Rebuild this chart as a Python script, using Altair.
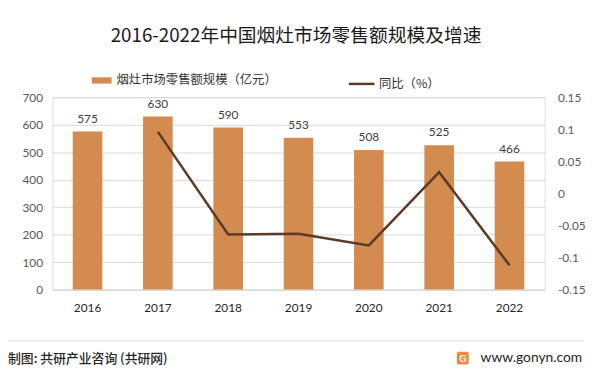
import altair as alt
import pandas as pd

years = ["2016", "2017", "2018", "2019", "2020", "2021", "2022"]
sales = [575, 630, 590, 553, 508, 525, 466]
growth_years = ["2017", "2018", "2019", "2020", "2021", "2022"]
growth = [0.096, -0.064, -0.063, -0.081, 0.033, -0.112]
left_ticks = [0, 100, 200, 300, 400, 500, 600, 700]
right_ticks = [-0.15, -0.1, -0.05, 0, 0.05, 0.1, 0.15]

bar_name = "烟灶市场零售额规模（亿元）"
line_name = "同比（%）"
title_text = "2016-2022年中国烟灶市场零售额规模及增速"
source_text = "制图: 共研产业咨询 (共研网)"
site_text = "www.gonyn.com"

CJK = "Noto Sans CJK SC"
NUM = "Lato"

bars_df = pd.DataFrame({"year": years, "sales": sales, "s": bar_name})
line_df = pd.DataFrame({"year": growth_years, "growth": growth, "s": line_name})

W, H = 499, 195

x_axis = alt.Axis(title=None, labelAngle=0, ticks=False, domain=True,
                  domainColor="#D9D9D9", labelFont=NUM, labelFontSize=12,
                  labelColor="#262626", labelPadding=13)
x_scale = alt.Scale(domain=years, paddingInner=0, paddingOuter=0)

y_axis = alt.Axis(title=None, values=left_ticks, ticks=False, domain=False, grid=True,
                  gridColor="#D9D9D9", labelOverlap=False, labelFont=NUM,
                  labelFontSize=12, labelColor="#595959", labelPadding=10)
y_scale = alt.Scale(domain=[0, 700], nice=False)

bars = alt.Chart(bars_df).mark_bar(size=30).encode(
    x=alt.X("year:N", sort=years, scale=x_scale, axis=x_axis),
    y=alt.Y("sales:Q", scale=y_scale, axis=y_axis),
    color=alt.Color("s:N", scale=alt.Scale(domain=[bar_name], range=["#D38B4F"]),
                    legend=alt.Legend(orient="none", legendX=39, legendY=-28, title=None,
                                      symbolType="M-1,-0.32H1V0.32H-1Z", symbolSize=400,
                                      labelFont=CJK, labelFontSize=12.5, labelColor="#333333",
                                      labelOffset=4, labelLimit=400)),
)

bar_labels = alt.Chart(bars_df).mark_text(dy=-13, font=NUM, fontSize=12, color="#404040").encode(
    x=alt.X("year:N", sort=years, scale=x_scale, axis=x_axis),
    y=alt.Y("sales:Q", scale=y_scale, axis=y_axis),
    text=alt.Text("sales:Q"),
)

left = alt.layer(bars, bar_labels)

line = alt.Chart(line_df).mark_line(strokeWidth=2.5).encode(
    x=alt.X("year:N", sort=years, scale=x_scale, axis=x_axis),
    y=alt.Y("growth:Q", scale=alt.Scale(domain=[-0.15, 0.15], nice=False),
            axis=alt.Axis(title=None, orient="right", values=right_ticks,
                          labelExpr="toString(round(datum.value*100)/100)",
                          ticks=False, domain=False, grid=False, labelOverlap=False,
                          labelFont=NUM, labelFontSize=12, labelColor="#595959",
                          labelPadding=13)),
    stroke=alt.Stroke("s:N", scale=alt.Scale(domain=[line_name], range=["#5B3A27"]),
                      legend=alt.Legend(orient="none", legendX=299, legendY=-28, title=None,
                                        symbolType="stroke", symbolSize=676,
                                        symbolStrokeWidth=2.5,
                                        labelFont=CJK, labelFontSize=12.5, labelColor="#333333",
                                        labelOffset=3, labelLimit=400)),
)

one = pd.DataFrame({"k": [0]})

title = alt.Chart(one).mark_text(font=CJK, fontSize=19, color="#1a1a1a", fontWeight="normal",
                                 align="center", baseline="middle").encode(
    x=alt.value(247), y=alt.value(-62), text=alt.value(title_text))

sep = alt.Chart(one).mark_rule(color="#D9D9D9", strokeWidth=1).encode(
    x=alt.value(-45), x2=alt.value(539), y=alt.value(247))

src = alt.Chart(one).mark_text(font=CJK, fontSize=13, color="#262626", fontWeight=500,
                               align="left", baseline="middle").encode(
    x=alt.value(-45), y=alt.value(265), text=alt.value(source_text))

site = alt.Chart(one).mark_text(font=NUM, fontSize=14, color="#262626",
                                align="right", baseline="middle").encode(
    x=alt.value(537), y=alt.value(264), text=alt.value(site_text))

logo = alt.Chart(one).mark_rect(color="#F08A3C", cornerRadius=2).encode(
    x=alt.value(410), x2=alt.value(422), y=alt.value(258), y2=alt.value(271))

logo_g = alt.Chart(one).mark_text(font=NUM, fontSize=10, fontWeight="bold", color="white",
                                  align="center", baseline="middle").encode(
    x=alt.value(416), y=alt.value(265), text=alt.value("G"))

chart = alt.layer(left, line, title, sep, src, site, logo, logo_g).resolve_scale(
    y="independent", color="independent", stroke="independent"
).properties(
    width=W, height=H,
    autosize=alt.AutoSizeParams(type="none"),
    padding={"left": 45, "top": 88, "right": 48, "bottom": 76},
).configure_view(stroke=None).configure(background="white")

chart.save("out.html", embed_options={"renderer": "svg", "actions": False})
